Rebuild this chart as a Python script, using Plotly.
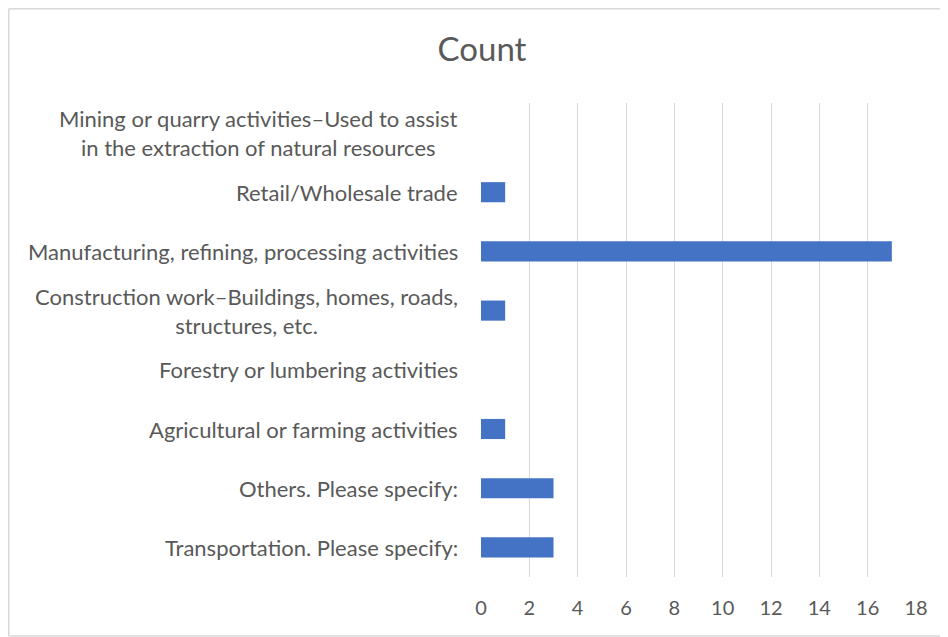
import plotly.graph_objects as go

categories = [
    "Transportation. Please specify:",
    "Others. Please specify:",
    "Agricultural or farming activities",
    "Forestry or lumbering activities",
    "Construction work–Buildings, homes, roads,<br>structures, etc.",
    "Manufacturing, refining, processing activities",
    "Retail/Wholesale trade",
    "Mining or quarry activities–Used to assist<br>in the extraction of natural resources",
]
counts = [3, 3, 1, 0, 1, 17, 1, 0]
x_ticks = [0, 2, 4, 6, 8, 10, 12, 14, 16, 18]

FONT = "Lato"
GRAY = "#595959"

fig = go.Figure(go.Bar(
    y=categories, x=counts, orientation="h",
    marker=dict(color="#4472C4", line=dict(width=0)),
))

# page has an 8px body margin; figure coordinates are page coords minus 8
W, H = 940, 629
L, R, T, B = 473, 32, 95, 60

annotations = []
for c in categories:
    annotations.append(dict(
        x=0, xref="paper", y=c, yref="y", text=c, showarrow=False,
        xanchor="right", yanchor="middle", align="center", xshift=-21,
        font=dict(family=FONT, size=22, color=GRAY),
    ))

pw = W - L - R
ph = H - T - B
def px_to_paper_x(px):
    return (px - L) / pw
def px_to_paper_y(py):
    return (H - B - py) / ph

border = dict(color="#D9D9D9", width=1.5)
xl, xr = px_to_paper_x(0.75), px_to_paper_x(W)
yt, yb = px_to_paper_y(0.75), px_to_paper_y(628)
shapes = [
    dict(type="line", xref="paper", yref="paper", x0=xl, x1=xr, y0=yt, y1=yt, line=border, layer="below"),
    dict(type="line", xref="paper", yref="paper", x0=xl, x1=xr, y0=yb, y1=yb, line=border, layer="below"),
    dict(type="line", xref="paper", yref="paper", x0=xl, x1=xl, y0=yb, y1=yt, line=border, layer="below"),
]

fig.update_layout(
    width=W, height=H,
    margin=dict(l=L, r=R, t=T, b=B),
    plot_bgcolor="white", paper_bgcolor="white",
    bargap=0.66,
    showlegend=False,
    title=dict(text="Count", x=px_to_paper_x(474), xref="paper", xanchor="center",
               y=1 - 41 / H, yanchor="middle",
               font=dict(family=FONT, size=33, color=GRAY)),
    xaxis=dict(range=[0, 18], tickvals=x_ticks, showgrid=True, gridcolor="#D9D9D9",
               gridwidth=1, zeroline=False, showline=False, ticks="",
               ticklabelstandoff=17,
               tickfont=dict(family=FONT, size=20, color=GRAY)),
    yaxis=dict(showticklabels=False, showgrid=False, zeroline=False, showline=False,
               ticks=""),
    annotations=annotations,
    shapes=shapes,
)

fig.write_html("out.html")
